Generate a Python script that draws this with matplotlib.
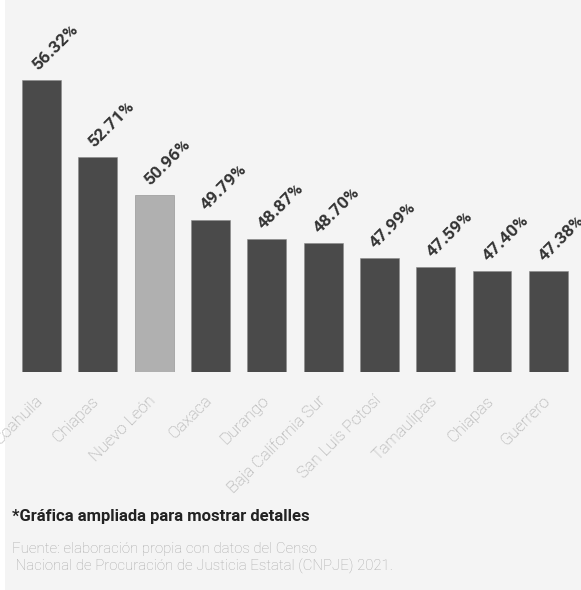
import numpy as np
import matplotlib
matplotlib.use('Agg')
import matplotlib.pyplot as plt
import matplotlib.transforms as mtransforms
from matplotlib.patches import Rectangle

states = ['Coahuila', 'Chiapas', 'Nuevo León', 'Oaxaca', 'Durango',
          'Baja California Sur', 'San Luis Potosí', 'Tamaulipas', 'Chiapas', 'Guerrero']
values = [56.32, 52.71, 50.96, 49.79, 48.87, 48.70, 47.99, 47.59, 47.40, 47.38]
highlight = 'Nuevo León'

dark = '#4a4a4a'
light = '#b0b0b0'
bg = '#f4f4f4'

plt.rcParams['font.family'] = ['Roboto', 'DejaVu Sans']

fig = plt.figure(figsize=(5.81, 5.90), dpi=100, facecolor='white')
# light panel, with a thin white strip on the left like the screenshot
fig.patches.append(Rectangle((5 / 581, 0), 1, 1, transform=fig.transFigure,
                             facecolor=bg, edgecolor='none', zorder=-10))

ax = fig.add_axes([0, 1 - 372 / 590, 1, 372 / 590])
ax.set_facecolor('none')

x = np.arange(len(values))
colors = [light if s == highlight else dark for s in states]
ax.bar(x, values, width=0.69, color=colors, edgecolor='#8a8a8a', linewidth=0.4)

# "enlarged" chart: axis does not start at zero
ax.set_ylim(42.67, 60.06)
ax.set_xlim(-0.737, 9.58)

for xi, v in zip(x, values):
    ax.annotate(f'{v:.2f}%', (xi, v), xytext=(-1, 5), textcoords='offset points',
                rotation=45, rotation_mode='anchor', ha='left', va='bottom',
                fontsize=12.5, fontweight='bold', color='#333333')

ax.set_xticks(x)
ax.set_xticklabels(states, rotation=45, ha='right', rotation_mode='anchor',
                   fontsize=12, color='#a0a0a0', fontweight='light')
ax.tick_params(axis='x', length=0, pad=15)
shift = mtransforms.ScaledTranslation(-6 / 100, 0, fig.dpi_scale_trans)
for lbl in ax.get_xticklabels():
    lbl.set_transform(lbl.get_transform() + shift)
ax.set_yticks([])
for s in ax.spines.values():
    s.set_visible(False)

fig.text(12 / 581, 1 - 516 / 590, '*Gráfica ampliada para mostrar detalles',
         fontsize=12, fontweight='bold', color='#222222', va='center')
fig.text(12 / 581, 1 - 558 / 590,
         'Fuente: elaboración propia con datos del Censo\n Nacional de Procuración de Justicia Estatal (CNPJE) 2021.',
         fontsize=10.8, color='#a8a8a8', fontweight='light', va='center', linespacing=1.2)

fig.savefig('out.png', dpi=100, facecolor='white')
